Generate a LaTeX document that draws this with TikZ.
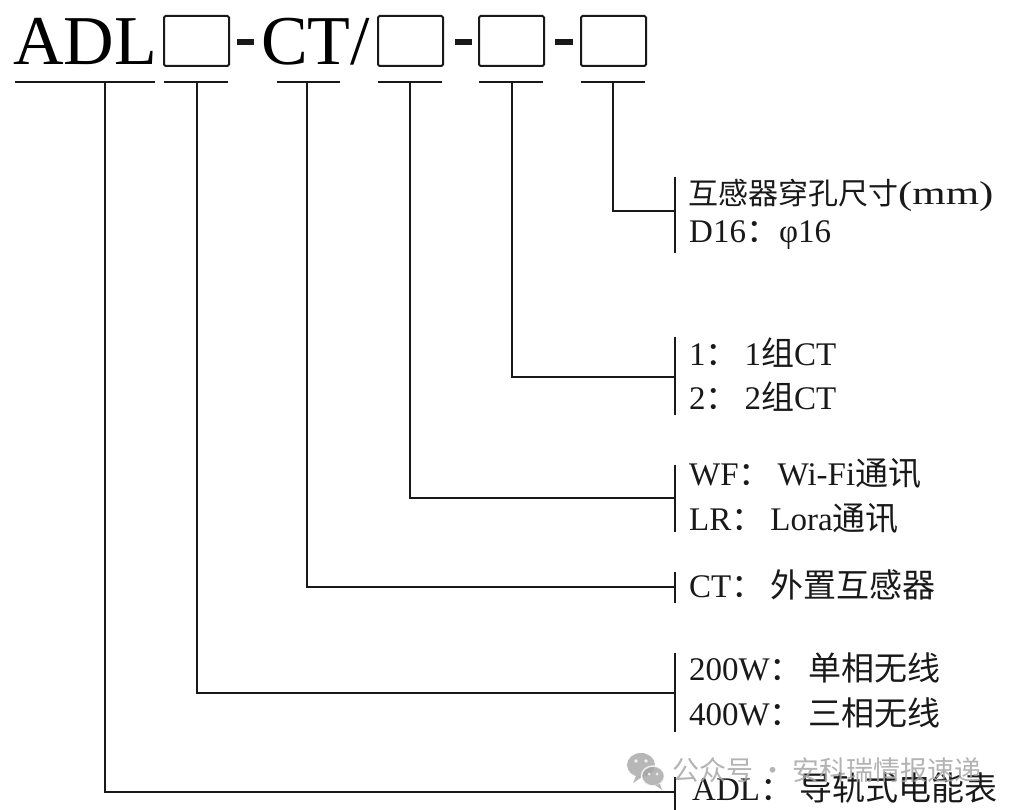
\documentclass[tikz,border=0pt]{standalone}
\usepackage{fontspec}
\setmainfont{Liberation Serif}
\newfontfamily\cjk{Noto Sans CJK SC}
\newcommand{\colgap}{{\cjk ：}\hspace{6pt}}
\begin{document}
\begin{tikzpicture}[x=1pt,y=-1pt,
  ink/.style={line width=1.8pt, draw=black!90},
  titlefont/.style={font=\fontsize{70}{70}\selectfont},
  titlebox/.style={draw=black!90, line width=2pt, rounded corners=1.5pt, minimum width=65pt, minimum height=50pt, inner sep=0pt},
  hyph/.style={line width=5.5pt, draw=black!90},
  lbl/.style={anchor=base west, inner sep=0pt, font=\fontsize{33}{33}\selectfont, text=black!90},
  wm/.style={anchor=base west, inner sep=0pt, font=\fontsize{27}{27}\selectfont\cjk, text=black!35, opacity=0.85}
]
\useasboundingbox (0,0) rectangle (1012,810);
\fill[white] (0,0) rectangle (1012,810);

% title
\node[titlefont, anchor=base west, inner sep=0pt] (adl) at (13,65) {ADL};
\node[titlebox] (b1) at (196.5,41) {};
\node[titlefont, anchor=base west, inner sep=0pt] (ct) at (261,65) {CT/};
\node[titlebox] (b2) at (410.5,41) {};
\node[titlebox] (b3) at (511.5,41) {};
\node[titlebox] (b4) at (613.5,41) {};
\draw[hyph] (237,42) -- (254,42);
\draw[hyph] (455,42) -- (472,42);
\draw[hyph] (555,42) -- (573,42);

% underlines
\draw[ink] (15,82) -- (155,82);
\draw[ink] (164,82) -- (228,82);
\draw[ink] (277,82) -- (340,82);
\draw[ink] (378,82) -- (442,82);
\draw[ink] (479,82) -- (543,82);
\draw[ink] (581,82) -- (645,82);

\coordinate (u1) at (105,82);
\coordinate (u2) at (197,82);
\coordinate (u3) at (307,82);
\coordinate (u4) at (410,82);
\coordinate (u5) at (512,82);
\coordinate (u6) at (613,82);

% labels
\node[lbl] (l6a) at (688,205) {{\fontsize{30}{30}\selectfont\cjk 互感器穿孔尺寸}\scalebox{1.3}[1]{(mm)}};
\node[lbl] (l6b) at (689,243) {D16{\cjk ：}φ16};
\node[lbl] (l5a) at (689,365) {1\colgap 1{\cjk 组}CT};
\node[lbl] (l5b) at (689,409) {2\colgap 2{\cjk 组}CT};
\node[lbl] (l4a) at (689,485) {WF\colgap Wi-Fi{\cjk 通讯}};
\node[lbl] (l4b) at (689,530) {LR\colgap Lora{\cjk 通讯}};
\node[lbl] (l3a) at (689,597) {CT\colgap{\cjk 外置互感器}};
\node[lbl] (l2a) at (689,680) {200W\colgap{\cjk 单相无线}};
\node[lbl] (l2b) at (689,725) {400W\colgap{\cjk 三相无线}};
\node[lbl] (l1a) at (692,800) {ADL\colgap{\cjk 导轨式电能表}};

% bars
\coordinate (t6) at (675,177); \coordinate (e6) at (675,253); \coordinate (h6) at (675,211);
\coordinate (t5) at (675,337); \coordinate (e5) at (675,415); \coordinate (h5) at (675,377);
\coordinate (t4) at (675,465); \coordinate (e4) at (675,532); \coordinate (h4) at (675,498);
\coordinate (t3) at (675,572); \coordinate (e3) at (675,603); \coordinate (h3) at (675,587);
\coordinate (t2) at (675,653); \coordinate (e2) at (675,732); \coordinate (h2) at (675,693);
\coordinate (t1) at (675,777); \coordinate (e1) at (675,810); \coordinate (h1) at (675,792);
\foreach \i in {1,...,6} {\draw[ink] (t\i) -- (e\i);}

% connectors
\draw[ink] (u6) |- (h6);
\draw[ink] (u5) |- (h5);
\draw[ink] (u4) |- (h4);
\draw[ink] (u3) |- (h3);
\draw[ink] (u2) |- (h2);
\draw[ink] (u1) |- (h1);

% watermark
\begin{scope}[opacity=0.8]
\fill[black!35] (641,765) ellipse (14pt and 12pt);
\fill[black!35] (636,776) -- (633,783) -- (642,777) -- cycle;
\draw[white, line width=1.5pt, fill=black!35] (653,776) ellipse (11.5pt and 10pt);
\fill[black!35] (660,784) -- (662,790) -- (655,785) -- cycle;
\fill[white] (636,761) circle (1.8pt) (646,761) circle (1.8pt);
\fill[white] (649,774) circle (1.5pt) (657,774) circle (1.5pt);
\end{scope}
\node[wm] (wmk) at (672,780) {公众号 · 安科瑞情报速递};
\end{tikzpicture}
\end{document}
